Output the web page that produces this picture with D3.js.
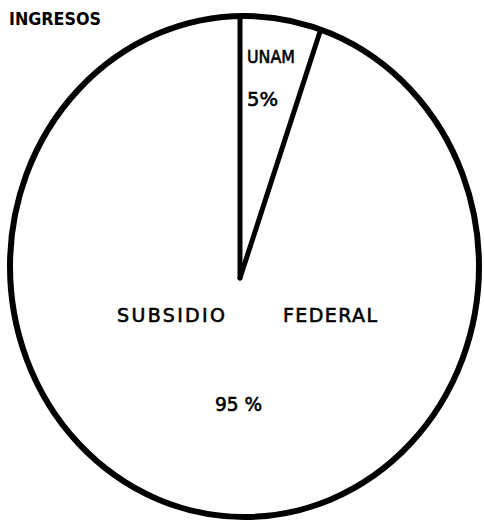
<!DOCTYPE html>
<html>
<head>
<meta charset="utf-8">
<script src="https://cdn.jsdelivr.net/npm/d3@7"></script>
<style>
  body { margin: 0; background: #fff; }
  text { font-family: "DejaVu Sans", sans-serif; fill: #000; }
  text.lbl { stroke: #000; stroke-width: 0.6; }
</style>
</head>
<body>
<script>
const categories = ["UNAM", "SUBSIDIO FEDERAL"];
const values = [5, 95];
const pctLabels = ["5%", "95 %"];
const title = "INGRESOS";

const w = 484;
const h = 527;

// hand drawn outline is a bit oval, and the apex is not at its centre
const cx = 244.5, cy = 266.5, rx = 234.5, ry = 250.5;
const apex = [240, 278];

const svg = d3.select("body")
  .append("svg")
  .attr("width", w)
  .attr("height", h);

const pie = d3.pie().sort(null).value(d => d);
const slices = pie(values);

// point where a ray from the apex meets the outline
function edgePoint(a) {
  const dx = Math.sin(a), dy = -Math.cos(a);
  const px = (apex[0] - cx) / rx, py = (apex[1] - cy) / ry;
  const qx = dx / rx, qy = dy / ry;
  const A = qx * qx + qy * qy;
  const B = 2 * (px * qx + py * qy);
  const C = px * px + py * py - 1;
  const t = (-B + Math.sqrt(B * B - 4 * A * C)) / (2 * A);
  return [apex[0] + t * dx, apex[1] + t * dy];
}

svg.append("ellipse")
  .attr("cx", cx)
  .attr("cy", cy)
  .attr("rx", rx)
  .attr("ry", ry)
  .attr("fill", "#fff")
  .attr("stroke", "#000")
  .attr("stroke-width", 6);

svg.selectAll("line.cut")
  .data(slices)
  .enter()
  .append("line")
  .attr("class", "cut")
  .attr("x1", apex[0])
  .attr("y1", apex[1])
  .attr("x2", d => edgePoint(d.startAngle)[0])
  .attr("y2", d => edgePoint(d.startAngle)[1])
  .attr("stroke", "#000")
  .attr("stroke-width", 5)
  .attr("stroke-linecap", "round");

svg.append("text")
  .attr("x", 9)
  .attr("y", 25)
  .attr("font-size", 17)
  .attr("font-weight", "bold")
  .attr("textLength", 92)
  .attr("lengthAdjust", "spacingAndGlyphs")
  .text(title);

// UNAM label and percent
svg.append("text")
  .attr("class", "lbl")
  .attr("x", 247).attr("y", 63)
  .attr("font-size", 17)
  .attr("textLength", 48)
  .attr("lengthAdjust", "spacingAndGlyphs")
  .text(categories[0]);
svg.append("text")
  .attr("class", "lbl")
  .attr("x", 247).attr("y", 106)
  .attr("font-size", 19)
  .attr("textLength", 31)
  .attr("lengthAdjust", "spacingAndGlyphs")
  .text(pctLabels[0]);

// SUBSIDIO FEDERAL split in two words
const words = categories[1].split(" ");
svg.append("text")
  .attr("class", "lbl")
  .attr("x", 117).attr("y", 322)
  .attr("font-size", 19)
  .attr("textLength", 108)
  .attr("lengthAdjust", "spacing")
  .text(words[0]);
svg.append("text")
  .attr("class", "lbl")
  .attr("x", 283).attr("y", 322)
  .attr("font-size", 19)
  .attr("textLength", 94)
  .attr("lengthAdjust", "spacing")
  .text(words[1]);
svg.append("text")
  .attr("class", "lbl")
  .attr("x", 215).attr("y", 411)
  .attr("font-size", 19)
  .attr("textLength", 47)
  .attr("lengthAdjust", "spacingAndGlyphs")
  .text(pctLabels[1]);
</script>
</body>
</html>
